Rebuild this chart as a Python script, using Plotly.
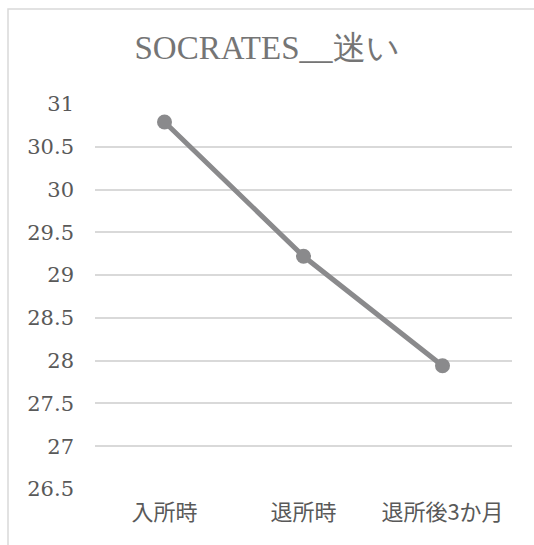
import plotly.graph_objects as go

# Scores at each survey point
categories = ["入所時", "退所時", "退所後3か月"]
scores = [30.79, 29.22, 27.94]
y_ticks = [26.5, 27, 27.5, 28, 28.5, 29, 29.5, 30, 30.5, 31]

W, H = 534, 545
L, R, T, B = 95, 22, 104, 56
pw, ph = W - L - R, H - T - B

fig = go.Figure()
fig.add_trace(go.Scatter(
    x=categories, y=scores, mode="lines+markers",
    line=dict(color="#8a8a8c", width=5),
    marker=dict(color="#8a8a8c", size=15),
    hoverinfo="skip",
))

serif = "'Liberation Serif', 'Times New Roman', 'DejaVu Serif', serif"

fig.update_layout(
    width=W, height=H,
    margin=dict(l=L, r=R, t=T, b=B),
    paper_bgcolor="white", plot_bgcolor="white",
    showlegend=False,
    font=dict(family=serif),
    title=dict(text="SOCRATES__迷い", x=0.5, xref="container", xanchor="center",
               y=1 - 47 / H, yanchor="middle",
               font=dict(family=serif, size=33, color="#757575")),
    xaxis=dict(range=[-0.5, 2.5], showgrid=False, showline=False,
               zeroline=False, ticks="", automargin=False,
               tickfont=dict(family="Noto Sans CJK JP", size=22, color="#595959"),
               ticklabelstandoff=8),
    yaxis=dict(range=[26.5, 31], tickvals=y_ticks,
               ticktext=[f"{v:g}" for v in y_ticks],
               showgrid=True, gridcolor="#d9d9d9", gridwidth=1.5,
               zeroline=False, showline=False, ticks="", automargin=False,
               tickfont=dict(family="DejaVu Serif", size=21, color="#595959"),
               ticklabelstandoff=20),
)

# Chart frame (extends past the right and bottom edges)
fig.add_shape(type="rect", xref="paper", yref="paper",
              x0=(8 - L) / pw, x1=1 + (R + 200) / pw,
              y0=-(B + 200) / ph, y1=1 + (T - 9) / ph,
              line=dict(color="#d9d9d9", width=1.5), layer="below")

fig.write_html("out.html")
